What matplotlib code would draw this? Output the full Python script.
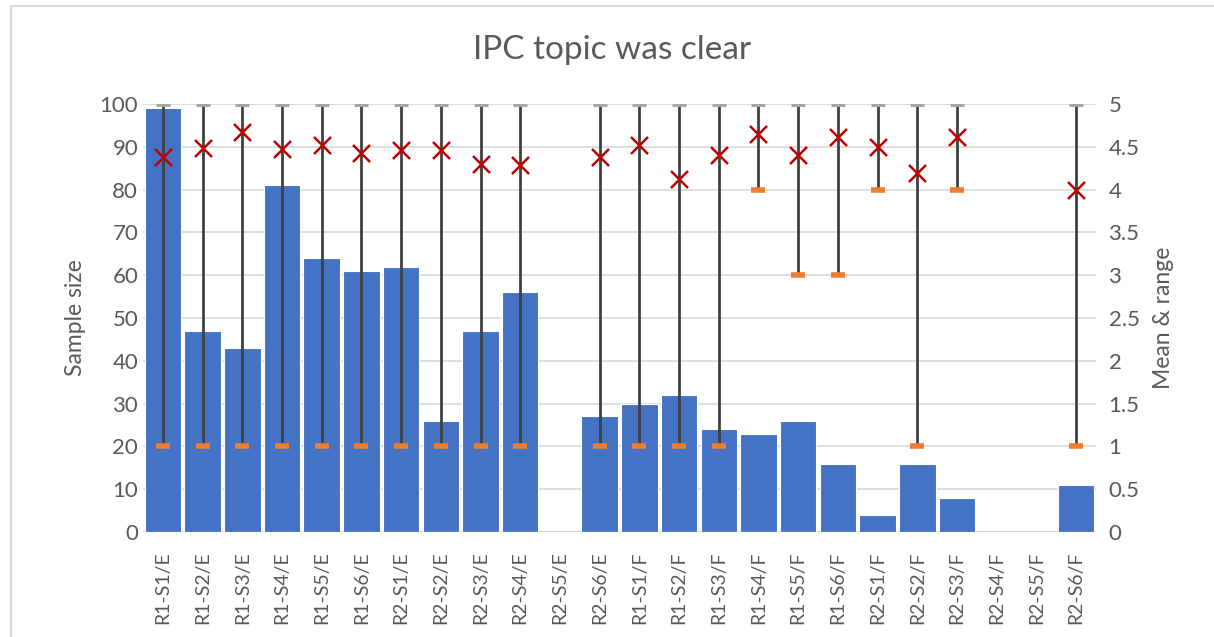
import matplotlib
matplotlib.use("Agg")
import matplotlib.pyplot as plt
import numpy as np
from matplotlib.patches import Rectangle

categories = ["R1-S1/E", "R1-S2/E", "R1-S3/E", "R1-S4/E", "R1-S5/E", "R1-S6/E",
              "R2-S1/E", "R2-S2/E", "R2-S3/E", "R2-S4/E", "R2-S5/E", "R2-S6/E",
              "R1-S1/F", "R1-S2/F", "R1-S3/F", "R1-S4/F", "R1-S5/F", "R1-S6/F",
              "R2-S1/F", "R2-S2/F", "R2-S3/F", "R2-S4/F", "R2-S5/F", "R2-S6/F"]
sample_size = [99, 47, 43, 81, 64, 61, 62, 26, 47, 56, 0, 27,
               30, 32, 24, 23, 26, 16, 4, 16, 8, 0, 0, 11]
means = [4.38, 4.49, 4.67, 4.47, 4.52, 4.43, 4.46, 4.46, 4.30, 4.29, np.nan, 4.38,
         4.52, 4.12, 4.41, 4.65, 4.41, 4.62, 4.50, 4.19, 4.62, np.nan, np.nan, 4.0]
mins = [1, 1, 1, 1, 1, 1, 1, 1, 1, 1, np.nan, 1,
        1, 1, 1, 4, 3, 3, 4, 1, 4, np.nan, np.nan, 1]
maxs = [5, 5, 5, 5, 5, 5, 5, 5, 5, 5, np.nan, 5,
        5, 5, 5, 5, 5, 5, 5, 5, 5, np.nan, np.nan, 5]

plt.rcParams['font.family'] = ['Lato', 'DejaVu Sans']
TXT = '#595959'

fig = plt.figure(figsize=(12.14, 6.37), dpi=100)
fig.patches.append(Rectangle((11/1214, -0.01), 1.02, 1 - 6/637 + 0.01, transform=fig.transFigure,
                             fill=False, edgecolor='#d9d9d9', linewidth=1.5, zorder=0))

ax = fig.add_axes([143/1214, 1 - 532/637, (1096 - 143)/1214, (532 - 104)/637])
x = np.arange(len(categories))
ax.bar(x, sample_size, width=0.92, color='#4472C4', edgecolor='white', linewidth=0.8, zorder=2)
ax.set_ylim(0, 100)
ax.set_xlim(-0.5, len(categories) - 0.5)
ax.set_yticks(np.arange(0, 101, 10))
ax.grid(axis='y', color='#d9d9d9', linewidth=1.2, zorder=0)
ax.set_axisbelow(True)
for s in ax.spines.values():
    s.set_visible(False)
ax.axhline(0, color='#d9d9d9', linewidth=1.5, zorder=1)
ax.set_xticks(x)
ax.set_xticklabels(categories, rotation=90, color=TXT)
ax.tick_params(axis='both', length=0, labelsize=16, labelcolor=TXT)
ax.tick_params(axis='x', pad=14, labelsize=14)
ax.set_ylabel('Sample size', fontsize=16.5, color=TXT, labelpad=10)

ax2 = ax.twinx()
ax2.set_ylim(0, 5)
ax2.set_yticks(np.arange(0, 5.01, 0.5))
ax2.set_yticklabels(['0', '0.5', '1', '1.5', '2', '2.5', '3', '3.5', '4', '4.5', '5'])
for s in ax2.spines.values():
    s.set_visible(False)
ax2.tick_params(axis='y', length=0, labelsize=16, labelcolor=TXT, pad=9)
ax2.set_ylabel('Mean & range', fontsize=16.5, color=TXT, labelpad=10)

mins_a = np.array(mins, dtype=float)
maxs_a = np.array(maxs, dtype=float)
valid = ~np.isnan(mins_a)
ax2.vlines(x[valid], mins_a[valid], maxs_a[valid], color='#404040', linewidth=2, zorder=3)
ax2.scatter(x[valid], maxs_a[valid], marker='_', s=100, linewidths=3.5, color='#a5a5a5', zorder=4)
ax2.scatter(x[valid], mins_a[valid], marker='_', s=110, linewidths=4, color='#ED7D31', zorder=4)
ax2.scatter(x, means, marker='x', s=150, linewidths=1.8, color='#C00000', zorder=5)

fig.text(612/1214, 1 - 50/637, 'IPC topic was clear', ha='center', va='center', fontsize=24, color=TXT)

fig.savefig('out.png', dpi=100)
